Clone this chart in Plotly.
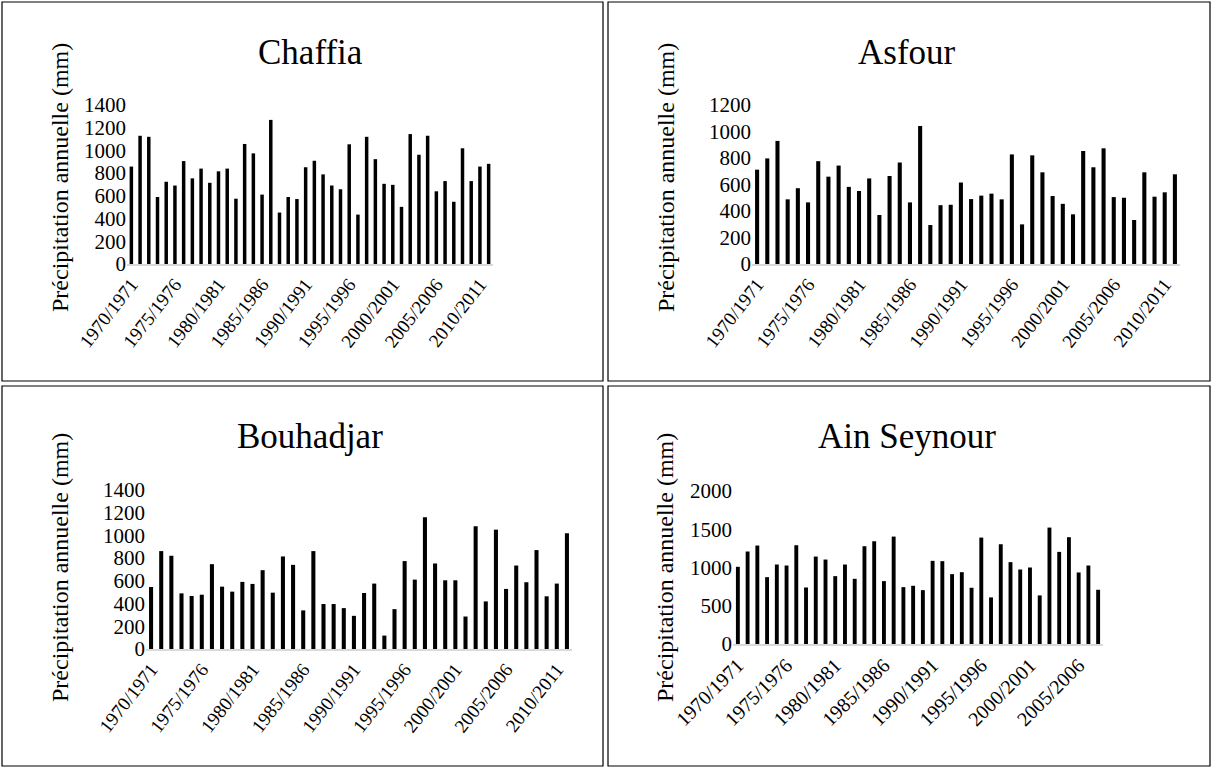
import plotly.graph_objects as go

# Hydrological years 1970/1971 onward
def seasons(n, start=1970):
    return [f"{y}/{y + 1}" for y in range(start, start + n)]

# Annual precipitation (mm) per station
chaffia = [858, 1129, 1120, 590, 724, 691, 906, 754, 840, 715, 816, 840, 575, 1057,
           974, 611, 1269, 453, 590, 572, 852, 909, 789, 691, 658, 1054, 435, 1120,
           923, 706, 697, 503, 1144, 962, 1129, 640, 730, 548, 1019, 730, 858, 882]
asfour = [712, 797, 929, 488, 572, 465, 776, 659, 743, 582, 551, 646, 370, 664,
          766, 465, 1042, 294, 444, 447, 615, 490, 516, 531, 488, 827, 299, 820,
          692, 513, 454, 375, 853, 730, 873, 505, 500, 332, 692, 508, 541, 677]
bouhadjar = [546, 862, 821, 490, 467, 478, 747, 549, 505, 591, 573, 694, 496, 815,
             741, 340, 862, 396, 396, 360, 292, 493, 576, 118, 351, 774, 611, 1161,
             753, 605, 605, 286, 1081, 419, 1051, 529, 735, 588, 871, 464, 576, 1019]
ain_seynour = [1009, 1209, 1287, 874, 1039, 1026, 1291, 739, 1143, 1104, 887, 1039,
               852, 1278, 1343, 822, 1404, 743, 761, 704, 1087, 1083, 913, 939, 735,
               1391, 609, 1304, 1070, 974, 1000, 635, 1522, 1204, 1396, 935, 1026, 709]

stations = ["Chaffia", "Asfour", "Bouhadjar", "Ain Seynour"]
series = [chaffia, asfour, bouhadjar, ain_seynour]
y_max = [1400, 1200, 1400, 2000]
y_step = [200, 200, 200, 500]
y_title = "Précipitation annuelle (mm)"

W, H = 1212, 768
FONT = "Times New Roman, Liberation Serif, serif"

def px(x):
    return x / W

def py(y):
    return 1 - y / H

# panel geometry in pixels: plot area (x0, x1, y_zero, y_top), frame box,
# title / y-title centres, rotation and size of the season labels
panels = [
    dict(plot=(127, 493, 264, 105), box=(2, 2, 603, 381), title=(310, 52), ytitle=(60, 178),
         angle=-52, xfs=19),
    dict(plot=(752, 1180, 264, 105), box=(608, 2, 1210, 381), title=(907, 52), ytitle=(666, 178),
         angle=-52, xfs=19),
    dict(plot=(146, 572, 649, 490), box=(2, 386, 603, 766), title=(310, 436), ytitle=(60, 568),
         angle=-52, xfs=19),
    dict(plot=(733, 1103, 644, 491), box=(608, 386, 1210, 766), title=(907, 436), ytitle=(665, 568),
         angle=-45, xfs=20),
]

fig = go.Figure()
layout = dict(
    width=W, height=H,
    margin=dict(l=0, r=0, t=0, b=0, pad=0, autoexpand=False),
    paper_bgcolor="white", plot_bgcolor="white",
    showlegend=False, bargap=0.6,
    font=dict(family=FONT, color="black", size=20),
)
shapes, annotations = [], []

for i, (name, vals, p) in enumerate(zip(stations, series, panels)):
    cats = seasons(len(vals))
    xa = "x" if i == 0 else f"x{i + 1}"
    ya = "y" if i == 0 else f"y{i + 1}"
    fig.add_trace(go.Bar(x=cats, y=vals, xaxis=xa, yaxis=ya,
                         marker=dict(color="black", line=dict(width=0))))
    x0, x1, yz, yt = p["plot"]
    xkey = "xaxis" if i == 0 else f"xaxis{i + 1}"
    ykey = "yaxis" if i == 0 else f"yaxis{i + 1}"
    layout[xkey] = dict(
        domain=[px(x0), px(x1)], anchor=ya, type="category", automargin=False,
        tickmode="array", tickvals=cats[::5], ticktext=cats[::5],
        tickangle=p["angle"], ticks="", showgrid=False, zeroline=False,
        showline=True, linecolor="#d9d9d9", linewidth=1.5,
        tickfont=dict(family=FONT, size=p["xfs"], color="black"),
    )
    layout[ykey] = dict(
        domain=[py(yz), py(yt)], anchor=xa, range=[0, y_max[i]], automargin=False,
        tickmode="linear", tick0=0, dtick=y_step[i],
        ticks="", showgrid=False, zeroline=False, showline=False,
        tickfont=dict(family=FONT, size=21, color="black"),
    )
    bx0, by0, bx1, by1 = p["box"]
    shapes.append(dict(type="rect", xref="paper", yref="paper",
                       x0=px(bx0), x1=px(bx1), y0=py(by1), y1=py(by0),
                       line=dict(color="black", width=1.2)))
    tx, ty = p["title"]
    annotations.append(dict(text=name, x=px(tx), y=py(ty), xref="paper", yref="paper",
                            showarrow=False, xanchor="center", yanchor="middle",
                            font=dict(family=FONT, size=35, color="black")))
    ax_, ay_ = p["ytitle"]
    annotations.append(dict(text=y_title, x=px(ax_), y=py(ay_), xref="paper", yref="paper",
                            showarrow=False, textangle=-90, xanchor="center", yanchor="middle",
                            font=dict(family=FONT, size=24, color="black")))

layout["shapes"] = shapes
layout["annotations"] = annotations
fig.update_layout(**layout)
fig.write_html("out.html")
